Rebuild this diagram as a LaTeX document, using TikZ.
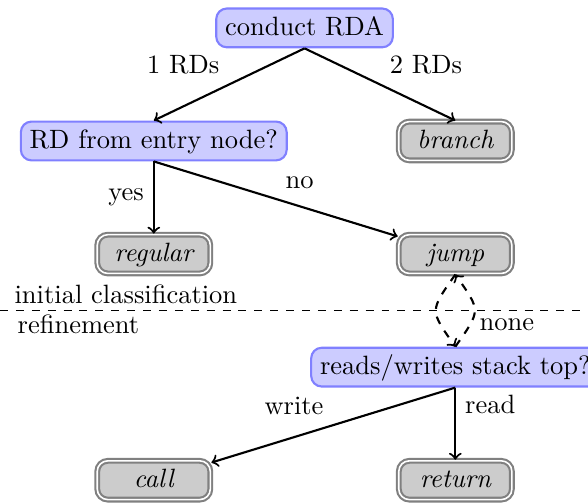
\documentclass[tikz,border=0pt]{standalone}
\begin{document}
\begin{tikzpicture}
    [
    test/.style={rectangle,rounded corners,thick,draw=blue!50,fill=blue!20,text height=1.6ex,text depth=.25ex},
    kind/.style={rectangle,rounded corners,thick,draw=black!50,double,fill=black!20,minimum width=15mm,text height=1.6ex,text depth=.25ex,font=\itshape},
    phase/.style={anchor=base west}
    ]
    \useasboundingbox (-4.04,0.37) rectangle (3.76,-6.29);
    \node (rda) at (0,0) [test] {conduct RDA};
    \node (entry) at (-2,-1.5) [test] {RD from entry node?};
    \node (branch) at (2,-1.5) [kind] {branch};
    \node (regular) at (-2,-3) [kind] {regular};
    \node (jump) at (2,-3) [kind] {jump};
    \node (stack) at (2,-4.5) [test] {reads/writes stack top?};
    \node (call) at (-2,-6) [kind] {call};
    \node (return) at (2,-6) [kind] {return};
    \node (initial) at (-3.97,-3.65) [phase] {initial classification};
    \node (refine) at (-3.93,-4.05) [phase] {refinement};
    \draw [dashed] (-4.04,-3.75) -- (3.76,-3.75);
    \draw [->,thick] (rda.south) to node [above left] {1 RDs} (entry.north);
    \draw [->,thick] (rda.south) to node [above right] {2 RDs} (branch.north);
    \draw [->,thick] (entry.south) to node [left] {yes} (regular.north);
    \draw [->,thick] (entry.south) to node [above right] {no} (jump);
    \draw [->,thick,dashed] (jump.south) to [bend right=35,looseness=1.6] (stack.north);
    \draw [->,thick,dashed] (stack.north) to [bend right=35,looseness=1.6] node [right,near start] {none} (jump.south);
    \draw [->,thick] (stack.south) to node [above left] {write} (call);
    \draw [->,thick] (stack.south) to node [above right] {read} (return.north);
  \end{tikzpicture}
\end{document}
